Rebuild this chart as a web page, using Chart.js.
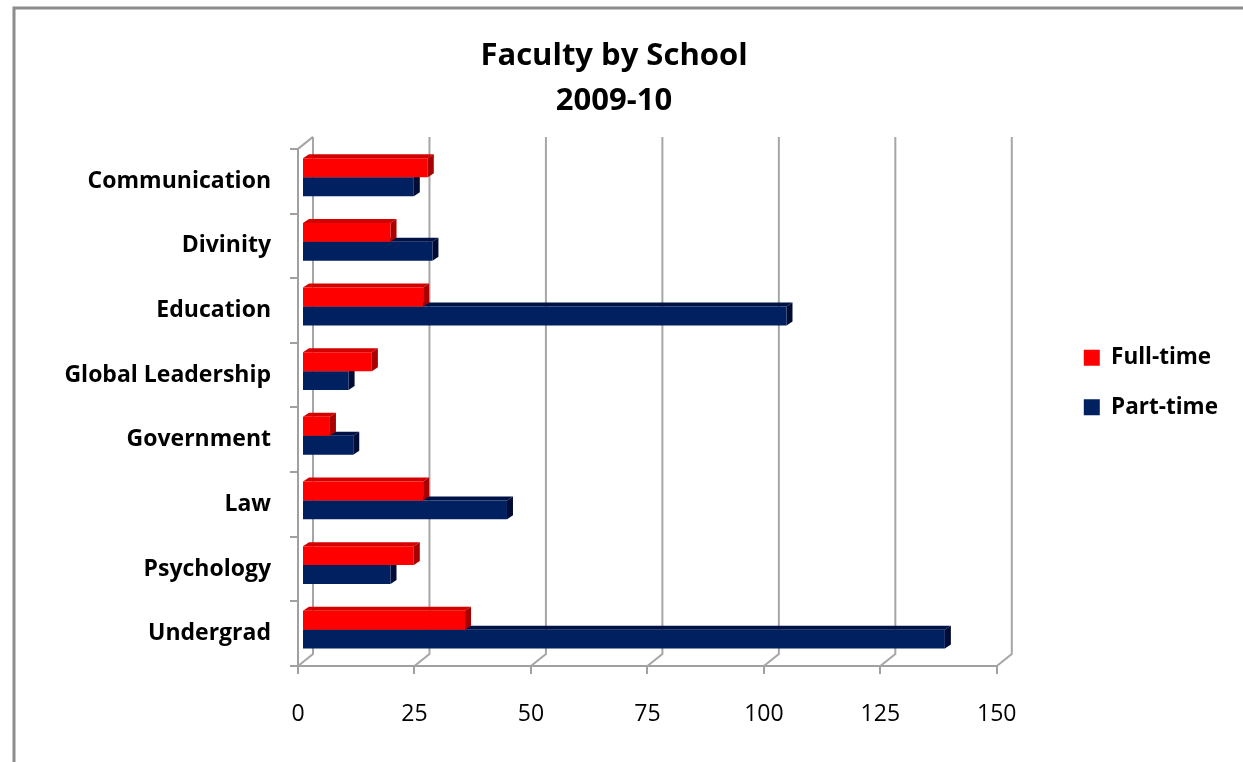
<!DOCTYPE html>
<html>
<head>
<meta charset="utf-8">
<script src="https://cdn.jsdelivr.net/npm/chart.js@4.4.1/dist/chart.umd.min.js"></script>
<style>
html,body{margin:0;padding:0;background:#fff;}
#wrap{width:1243px;height:762px;position:relative;}
</style>
</head>
<body>
<div id="wrap"><canvas id="facultyChart" width="1243" height="762"></canvas></div>
<script>
const schools=['Communication','Divinity','Education','Global Leadership','Government','Law','Psychology','Undergrad'];
const fullTime=[27,19,26,15,6,26,24,35];
const partTime=[24,28,104,10,11,44,19,138];
const xTicks=[0,25,50,75,100,125,150];

const FONT='"Open Sans"';

// back wall + depth lines, bar side faces, outer frame
const depthPlugin={
    id:'depth',
    beforeDraw(chart){
        const c=chart.ctx;
        c.save();
        c.fillStyle='#fff';
        c.fillRect(0,0,chart.width,chart.height);
        c.strokeStyle='#8c8c8c';
        c.lineWidth=3;
        c.strokeRect(14,8,chart.width+20,chart.height+20);
        c.restore();
    },
    beforeDatasetsDraw(chart){
        const c=chart.ctx;
        const xs=chart.scales.x;
        const a=chart.chartArea;
        const dx=15, dy=12;
        c.save();
        c.strokeStyle='#a6a6a6';
        c.lineWidth=2;
        xTicks.forEach(v=>{
            const px=xs.getPixelForValue(v);
            c.beginPath();
            c.moveTo(px,a.bottom);
            c.lineTo(px+dx,a.bottom-dy);
            c.lineTo(px+dx,a.top-dy);
            c.stroke();
        });
        c.beginPath();
        c.moveTo(a.left,a.top);
        c.lineTo(a.left+dx,a.top-dy);
        c.stroke();
        c.restore();

        // top and right faces, drawn behind the front faces
        c.save();
        c.translate(4,-4);
        const bd=6, bh=4;
        const faces=[
            {top:'#d40000',side:'#a80000'},
            {top:'#001245',side:'#000c33'}
        ];
        [1,0].forEach(di=>{
            const meta=chart.getDatasetMeta(di);
            meta.data.forEach(bar=>{
                const p=bar.getProps(['x','y','base','height'],true);
                const t=p.y-p.height/2, b=p.y+p.height/2;
                c.fillStyle=faces[di].top;
                c.beginPath();
                c.moveTo(p.base,t);
                c.lineTo(p.base+bd,t-bh);
                c.lineTo(p.x+bd,t-bh);
                c.lineTo(p.x,t);
                c.closePath();
                c.fill();
                c.fillStyle=faces[di].side;
                c.beginPath();
                c.moveTo(p.x,t);
                c.lineTo(p.x+bd,t-bh);
                c.lineTo(p.x+bd,b-bh);
                c.lineTo(p.x,b);
                c.closePath();
                c.fill();
            });
        });
    },
    afterDatasetsDraw(chart){
        chart.ctx.restore();
    }
};

const ctx=document.getElementById('facultyChart').getContext('2d');
const chart=new Chart(ctx,{
    type:'bar',
    data:{
        labels:schools,
        datasets:[{
            label:'Full-time',
            data:fullTime,
            backgroundColor:'#ff0000',
            borderWidth:0
        },{
            label:'Part-time',
            data:partTime,
            backgroundColor:'#002060',
            borderWidth:0
        }]
    },
    options:{
        indexAxis:'y',
        responsive:false,
        animation:false,
        events:[],
        datasets:{bar:{categoryPercentage:0.585,barPercentage:1}},
        layout:{padding:{top:6,left:0,right:15,bottom:0}},
        scales:{
            x:{
                min:0,max:150,
                ticks:{stepSize:25,color:'#000',padding:27,font:{family:FONT,size:23}},
                grid:{drawOnChartArea:false,drawTicks:true,tickLength:8,color:'#a0a0a0',lineWidth:2},
                border:{color:'#a0a0a0',width:2},
                afterFit:s=>{s.height=96;}
            },
            y:{
                ticks:{color:'#000',padding:19,font:{family:FONT,size:23,weight:'bold'}},
                grid:{drawOnChartArea:false,drawTicks:true,tickLength:8,color:'#a0a0a0',lineWidth:2},
                border:{color:'#a0a0a0',width:2},
                afterFit:s=>{s.width=298;}
            },
            spacer:{
                type:'linear',position:'right',display:true,
                ticks:{display:false},grid:{display:false},border:{display:false},
                afterFit:s=>{s.width=60;}
            }
        },
        plugins:{
            title:{
                display:true,
                text:['Faculty by School','2009-10'],
                color:'#000',
                font:{family:FONT,size:31,weight:'bold',lineHeight:1.45},
                padding:{top:28,bottom:25}
            },
            legend:{
                position:'right',
                align:'start',
                title:{display:true,text:'',padding:{top:299,bottom:0}},
                labels:{
                    color:'#000',
                    boxWidth:16,boxHeight:16,
                    padding:27,
                    font:{family:FONT,size:22.5,weight:'bold'}
                }
            },
            tooltip:{enabled:false}
        }
    },
    plugins:[depthPlugin]
});
</script>
</body>
</html>
